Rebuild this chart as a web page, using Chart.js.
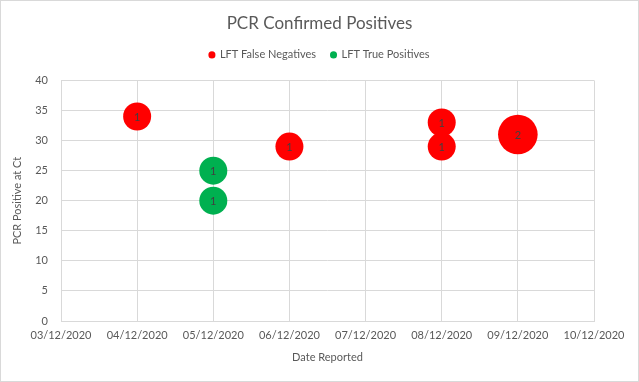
<!DOCTYPE html>
<html><head><meta charset="utf-8">
<script src="https://cdn.jsdelivr.net/npm/chart.js@4"></script>
<style>html,body{margin:0;padding:0;background:#fff}#wrap{width:639px;height:382px}</style>
</head><body><div id="wrap"><canvas id="c" width="639" height="382"></canvas></div>
<script>
const xTickLabels = ["03/12/2020","04/12/2020","05/12/2020","06/12/2020","07/12/2020","08/12/2020","09/12/2020","10/12/2020"];
const falseNegDates = ["04/12/2020","06/12/2020","08/12/2020","08/12/2020","09/12/2020"];
const falseNegCt    = [34, 29, 33, 29, 31];
const falseNegCount = [1, 1, 1, 1, 2];
const truePosDates  = ["05/12/2020","05/12/2020"];
const truePosCt     = [25, 20];
const truePosCount  = [1, 1];

const BUBBLE_R1 = 14; // pixel radius of a count-1 bubble (area scales with count)
const dayOf = s => parseInt(s.slice(0,2),10);
const build = (d, y, n) => d.map((s,i) => ({x: dayOf(s), y: y[i], r: BUBBLE_R1*Math.sqrt(n[i]), n: n[i]}));
const FONT = "Lato, 'Open Sans', sans-serif";
const GRAY = "#595959";

const bg = {
  id:'bg',
  beforeDraw(c){const g=c.ctx;g.save();g.fillStyle='#fff';g.fillRect(0,0,c.width,c.height);
    g.strokeStyle='#d9d9d9';g.lineWidth=1;g.strokeRect(0.5,0.5,c.width-1,c.height-1);g.restore();}
};
const labels = {
  id:'labels',
  afterDatasetsDraw(c){const g=c.ctx;g.save();g.font="11px "+FONT;g.fillStyle="#404040";g.textAlign='center';g.textBaseline='middle';
    c.data.datasets.forEach((ds,i)=>{c.getDatasetMeta(i).data.forEach((el,j)=>{g.fillText(String(ds.data[j].n),el.x,el.y+1);});});g.restore();}
};

const chart = new Chart(document.getElementById('c'), {
  type:'bubble',
  data:{datasets:[
    {label:'LFT False Negatives', data: build(falseNegDates,falseNegCt,falseNegCount), backgroundColor:'#ff0000', borderColor:'#ff0000', borderWidth:0},
    {label:'LFT True Positives', data: build(truePosDates,truePosCt,truePosCount), backgroundColor:'#00b050', borderColor:'#00b050', borderWidth:0}
  ]},
  options:{
    responsive:false, animation:false, devicePixelRatio:1,
    layout:{padding:{left:0,right:0,top:0,bottom:0}},
    plugins:{
      tooltip:{enabled:false},
      title:{display:true,text:'PCR Confirmed Positives',color:GRAY,font:{family:FONT,size:17,weight:'normal'},padding:{top:13,bottom:1}},
      legend:{display:true,labels:{color:GRAY,font:{family:FONT,size:11},usePointStyle:true,pointStyle:'circle',boxWidth:5,boxHeight:5,padding:15}},
    },
    scales:{
      x:{type:'linear',min:3,max:10,
        afterBuildTicks(ax){ax.ticks = xTickLabels.map(s=>({value:dayOf(s)}));},
        ticks:{color:GRAY,font:{family:FONT,size:11},padding:8,maxRotation:0,
          callback:(v)=>xTickLabels.find(s=>dayOf(s)===v)||''},
        grid:{color:'#d9d9d9',drawTicks:false},border:{color:'#d9d9d9'},
        title:{display:true,text:'Date Reported',color:GRAY,font:{family:FONT,size:11},padding:{top:18,bottom:18}},
        afterFit(ax){ax.height=61;}
      },
      y:{min:0,max:40,
        ticks:{stepSize:5,color:GRAY,font:{family:FONT,size:11},padding:13},
        grid:{color:'#d9d9d9',drawTicks:false},border:{display:false},
        title:{display:true,text:'PCR Positive at Ct',color:GRAY,font:{family:FONT,size:11},padding:{top:11,bottom:11}},
        afterFit(ax){ax.width=61;}
      },
      yR:{position:'right',min:0,max:40,display:true,
        ticks:{display:false},grid:{drawOnChartArea:false,drawTicks:false},border:{display:false},
        afterFit(ax){ax.width=45;}
      }
    }
  },
  plugins:[bg,labels]
});
const origFit = chart.legend.fit;
chart.legend.fit = function(){ origFit.call(this); this.height += 10; };
chart.update();
</script></body></html>
